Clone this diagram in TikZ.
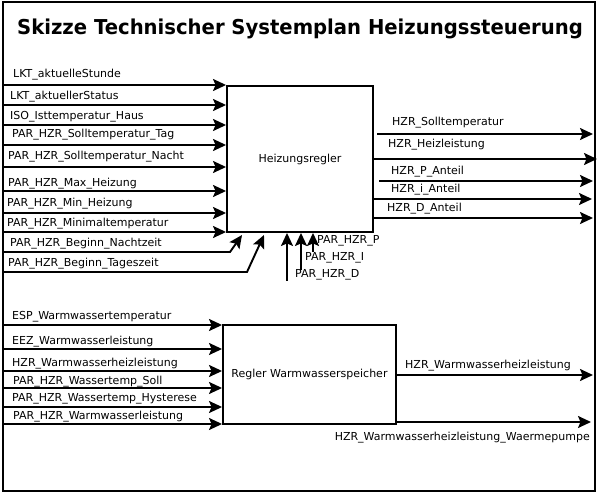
\documentclass[tikz,border=0pt]{standalone}
\usepackage{fontspec}
\setmainfont{DejaVu Sans}
\usetikzlibrary{arrows.meta}
\begin{document}
\begin{tikzpicture}[x=1pt,y=-1pt,
  arr/.style={line width=1.9pt,-{Stealth[length=13pt,width=12pt,inset=2.5pt]}},
  blk/.style={draw,line width=1.9pt,inner sep=0pt,font=\fontsize{11}{13}\selectfont},
  lbl/.style={anchor=west,inner sep=0pt,font=\fontsize{11}{13}\selectfont}]
\useasboundingbox (0,0) rectangle (600,494);
\draw[line width=1.9pt] (3,2) rectangle (595,491);
\node[anchor=base,inner sep=0pt,font=\bfseries\fontsize{20.5}{24}\selectfont] (title) at (300,35) {\scalebox{0.957}[1]{Skizze Technischer Systemplan Heizungssteuerung}};
% Heizungsregler
\node[blk,minimum width=146pt,minimum height=146pt] (hz) at (300,159) {Heizungsregler};
% inputs
\foreach \y/\ly/\lx/\t [count=\i] in {85/75/13/LKT\_aktuelleStunde,105/97/10/LKT\_aktuellerStatus,125/117/10/ISO\_Isttemperatur\_Haus,145/135/12/PAR\_HZR\_Solltemperatur\_Tag,167/157/8/PAR\_HZR\_Solltemperatur\_Nacht,191/184/8/PAR\_HZR\_Max\_Heizung,213/204/7/PAR\_HZR\_Min\_Heizung,232/224/7/PAR\_HZR\_Minimaltemperatur}{
  \coordinate (in\i) at (3,\y);
  \draw[arr] (in\i) -- (in\i -| hz.west);
  \node[lbl] (lin\i) at (\lx,\ly) {\t};
}
\coordinate (bn0) at (3,252); \coordinate (bn1) at (230,252); \coordinate (bn2) at (242,235);
\draw[arr] (bn0) -- (bn1) -- (bn2);
\node[lbl] (lbn) at (10,244) {PAR\_HZR\_Beginn\_Nachtzeit};
\coordinate (bt0) at (3,272); \coordinate (bt1) at (247,272); \coordinate (bt2) at (264,235);
\draw[arr] (bt0) -- (bt1) -- (bt2);
\node[lbl] (lbt) at (8,264) {PAR\_HZR\_Beginn\_Tageszeit};
% bottom inputs
\coordinate (pd) at (287,281); \draw[arr] (pd) -- (pd |- hz.south);
\coordinate (pi) at (301,270); \draw[arr] (pi) -- (pi |- hz.south);
\coordinate (pp) at (313,252); \draw[arr] (pp) -- (pp |- hz.south);
\node[lbl] (lpp) at (317,241) {PAR\_HZR\_P};
\node[lbl] (lpi) at (305,258) {PAR\_HZR\_I};
\node[lbl] (lpd) at (295,275) {PAR\_HZR\_D};
% outputs
\foreach \y/\sx/\ex/\ly/\lx/\t [count=\i] in {134/377/593/123/392/HZR\_Solltemperatur,159/373/597/145/388/HZR\_Heizleistung,181/379/593/172/391/HZR\_P\_Anteil,199/373/592/190/391/HZR\_i\_Anteil,218/373/593/209/387/HZR\_D\_Anteil}{
  \coordinate (os\i) at (\sx,\y); \coordinate (oe\i) at (\ex,\y);
  \draw[arr] (os\i) -- (oe\i);
  \node[lbl] (lout\i) at (\lx,\ly) {\t};
}
% Regler Warmwasserspeicher
\node[blk,minimum width=173pt,minimum height=99pt] (ww) at (309.5,374.5) {Regler Warmwasserspeicher};
\foreach \y/\ly/\lx/\t [count=\i] in {325/317/12/ESP\_Warmwassertemperatur,349/342/12/EEZ\_Warmwasserleistung,371/364/12/HZR\_Warmwasserheizleistung,388/382/13/PAR\_HZR\_Wassertemp\_Soll,407/399/12/PAR\_HZR\_Wassertemp\_Hysterese,424/417/13/PAR\_HZR\_Warmwasserleistung}{
  \coordinate (win\i) at (3,\y);
  \draw[arr] (win\i) -- (win\i -| ww.west);
  \node[lbl] (lwin\i) at (\lx,\ly) {\t};
}
\coordinate (wo1) at (593,375); \draw[arr] (ww.east |- wo1) -- (wo1);
\node[lbl] (lwo1) at (405,366) {HZR\_Warmwasserheizleistung};
\coordinate (wo2) at (591,422); \draw[arr] (ww.east |- wo2) -- (wo2);
\node[lbl,anchor=east] (lwo2) at (590,438) {HZR\_Warmwasserheizleistung\_Waermepumpe};
\end{tikzpicture}
\end{document}
